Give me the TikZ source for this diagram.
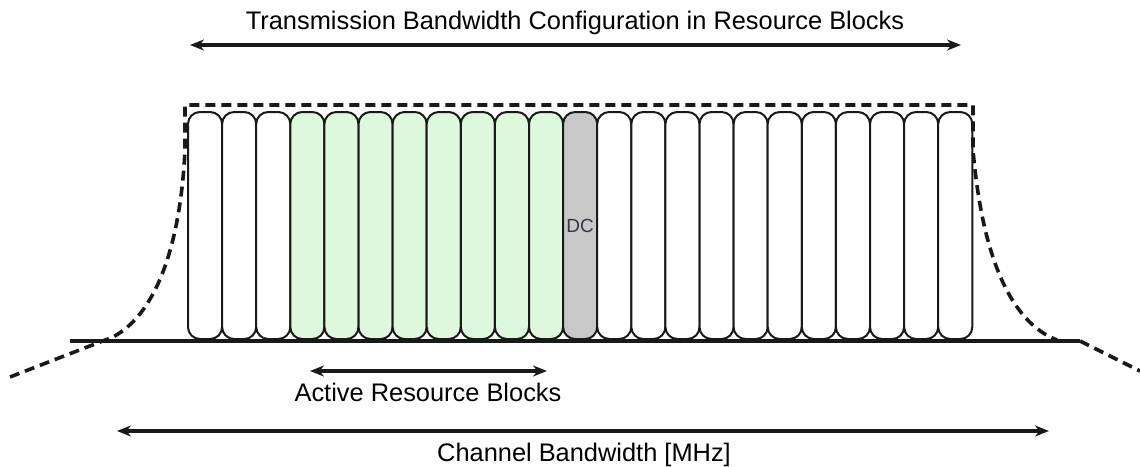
\documentclass[tikz,border=0pt]{standalone}
\usepackage{fontspec}
\setmainfont{Liberation Sans}
\usetikzlibrary{arrows.meta,positioning}
\definecolor{rbgreen}{RGB}{221,248,221}
\definecolor{rbgray}{RGB}{200,200,200}
\definecolor{dctext}{RGB}{55,55,70}

\begin{document}
\begin{tikzpicture}[x=0.5pt,y=-0.5pt,
    rblock/.style={rectangle,rounded corners=6pt,minimum width=17.05pt,minimum height=113.5pt,inner sep=0pt,line width=1pt,draw=black!90,fill=white},
    activeblock/.style={rblock,fill=rbgreen},
    dcblock/.style={rblock,fill=rbgray},
    envelope/.style={line width=1.8pt,dash pattern=on 5pt off 3pt,black!90},
    span/.style={line width=2pt,black!90,{Stealth[length=7pt,width=5.5pt]}-{Stealth[length=7pt,width=5.5pt]}},
    label/.style={font=\fontsize{12.7pt}{14pt}\selectfont,inner sep=0pt},
   ]
    \useasboundingbox (0,0) rectangle (1140,466);

    % resource blocks
    \foreach \i in {0,...,22}{
        \ifnum\i<3 \def\rbstyle{rblock}\else
        \ifnum\i<11 \def\rbstyle{activeblock}\else
        \ifnum\i=11 \def\rbstyle{dcblock}\else \def\rbstyle{rblock}\fi\fi\fi
        \node (rb\i) [\rbstyle] at ({188+34.1*\i+17.05},225.5) {};
    }
    \node (dc) [font=\fontsize{9.5pt}{11pt}\selectfont,text=dctext,inner sep=0pt] at (rb11.center) {DC};

    % spectrum mask
    \draw[envelope] (10,377) -- (113,337)
        .. controls (160,312) and (181,235) .. (185,150) -- (185,105)
        -- (973,105) -- (973,150)
        .. controls (982,255) and (1010,322) .. (1057,340);
    \draw[envelope] (1080,341) -- (1140,371);
    \draw[line width=2pt,black!90] (70,341) -- (1080,341);

    % bandwidth arrows
    \coordinate (tx_l) at (190,45);  \coordinate (tx_r) at (961,45);
    \coordinate (ar_l) at (310,371); \coordinate (ar_r) at (547,371);
    \coordinate (ch_l) at (117,431); \coordinate (ch_r) at (1049,431);
    \draw[span] (tx_l) -- (tx_r);
    \draw[span] (ar_l) -- (ar_r);
    \draw[span] (ch_l) -- (ch_r);

    \node (txbw) [label] at (575,23) {Transmission Bandwidth Configuration in Resource Blocks};
    \node (actrb) [label] at (428,392) {Active Resource Blocks};
    \node (chbw) [label] at (584,455) {Channel Bandwidth [MHz]};
\end{tikzpicture}
\end{document}
